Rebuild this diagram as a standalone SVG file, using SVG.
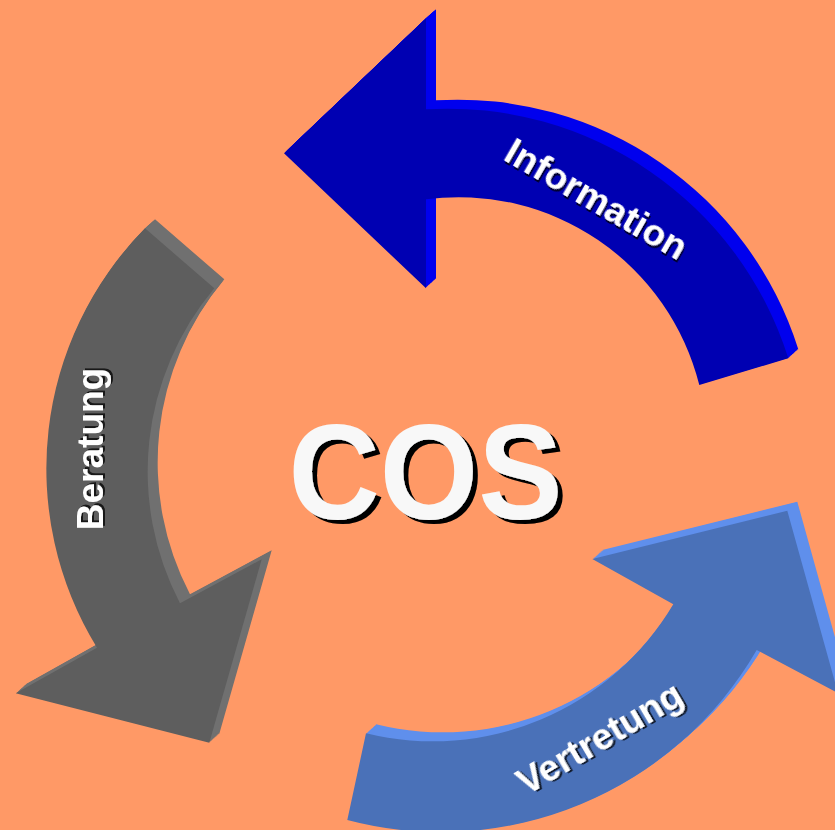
<svg xmlns="http://www.w3.org/2000/svg" xmlns:xlink="http://www.w3.org/1999/xlink" width="835" height="830" viewBox="0 0 835 830">
<style>
.lbl{font-family:"Liberation Sans",Arial,Helvetica,sans-serif;font-weight:bold;font-size:37px;fill:#ffffff;filter:url(#lshadow)}
.cos{font-family:"Liberation Sans",Arial,Helvetica,sans-serif;font-weight:bold;font-size:136px;fill:#f8f8f8;filter:url(#cshadow)}
.infoF{fill:#0000b2}.infoE{fill:#0000ee}
.berF{fill:#5e5e5e}.berE{fill:#707070}
.verF{fill:#4a71b8}.verE{fill:#5f8fec}
</style>
<defs>
<filter id="lshadow" x="-10%" y="-30%" width="120%" height="160%" filterUnits="objectBoundingBox">
<feOffset in="SourceAlpha" dx="1.5" dy="1.5" result="o"/>
<feFlood flood-color="#000000" flood-opacity="0.75"/>
<feComposite in2="o" operator="in" result="s"/>
<feMerge><feMergeNode in="s"/><feMergeNode in="SourceGraphic"/></feMerge>
</filter>
<filter id="cshadow" x="-5%" y="-10%" width="115%" height="125%">
<feOffset in="SourceAlpha" dx="5" dy="4" result="o"/>
<feFlood flood-color="#000000"/>
<feComposite in2="o" operator="in" result="s"/>
<feMerge><feMergeNode in="s"/><feMergeNode in="SourceGraphic"/></feMerge>
</filter>
<path id="pInfo" d="M426,109.3 A357,357 0 0 1 788.3,358.3 L699.3,385 A248,248 0 0 0 426,199.3 L426,288.3 L284,153.3 L426,18.3 Z"/>
<path id="pBer" d="M145,228.3 A342,342 0 0 0 97,647.7 L15.7,693.3 L209.3,742.7 L261.7,559.3 L180,603.3 A285,285 0 0 1 214.3,288.3 Z"/>
<path id="pVer" d="M366,733.3 A280,280 0 0 0 673.3,604.3 L592.3,559 L787.3,510.7 L838,693 L756.7,650 A365,365 0 0 1 347.3,820 Z"/>
</defs>
<rect x="0" y="0" width="835" height="830" fill="#ff9966"/>
<g id="arrows">
<g id="information">
<g class="infoE">
<use xlink:href="#pInfo" transform="translate(1,-0.9)"/><use xlink:href="#pInfo" transform="translate(2,-1.8)"/><use xlink:href="#pInfo" transform="translate(3,-2.7)"/><use xlink:href="#pInfo" transform="translate(4,-3.6)"/><use xlink:href="#pInfo" transform="translate(5,-4.5)"/><use xlink:href="#pInfo" transform="translate(6,-5.4)"/><use xlink:href="#pInfo" transform="translate(7,-6.3)"/><use xlink:href="#pInfo" transform="translate(8,-7.2)"/><use xlink:href="#pInfo" transform="translate(9,-8.1)"/><use xlink:href="#pInfo" transform="translate(10,-9)"/>
</g>
<use xlink:href="#pInfo" class="infoF"/>
<g transform="translate(590,210) rotate(30)">
<text class="lbl" x="0" y="0" text-anchor="middle">Information</text>
</g>
</g>
<g id="beratung">
<g class="berE">
<use xlink:href="#pBer" transform="translate(1,-0.9)"/><use xlink:href="#pBer" transform="translate(2,-1.8)"/><use xlink:href="#pBer" transform="translate(3,-2.7)"/><use xlink:href="#pBer" transform="translate(4,-3.6)"/><use xlink:href="#pBer" transform="translate(5,-4.5)"/><use xlink:href="#pBer" transform="translate(6,-5.4)"/><use xlink:href="#pBer" transform="translate(7,-6.3)"/><use xlink:href="#pBer" transform="translate(8,-7.2)"/><use xlink:href="#pBer" transform="translate(9,-8.1)"/><use xlink:href="#pBer" transform="translate(10,-9)"/>
</g>
<use xlink:href="#pBer" class="berF"/>
<g transform="translate(103,449) rotate(-90)">
<text class="lbl" x="0" y="0" text-anchor="middle">Beratung</text>
</g>
</g>
<g id="vertretung">
<g class="verE">
<use xlink:href="#pVer" transform="translate(1,-0.9)"/><use xlink:href="#pVer" transform="translate(2,-1.8)"/><use xlink:href="#pVer" transform="translate(3,-2.7)"/><use xlink:href="#pVer" transform="translate(4,-3.6)"/><use xlink:href="#pVer" transform="translate(5,-4.5)"/><use xlink:href="#pVer" transform="translate(6,-5.4)"/><use xlink:href="#pVer" transform="translate(7,-6.3)"/><use xlink:href="#pVer" transform="translate(8,-7.2)"/><use xlink:href="#pVer" transform="translate(9,-8.1)"/><use xlink:href="#pVer" transform="translate(10,-9)"/>
</g>
<use xlink:href="#pVer" class="verF"/>
<g transform="translate(606,749) rotate(-30.5)">
<text class="lbl" x="0" y="0" text-anchor="middle">Vertretung</text>
</g>
</g>
</g>
<g id="cos">
<text class="cos" x="288.5" y="519" textLength="274" lengthAdjust="spacingAndGlyphs">COS</text>
</g>
</svg>
